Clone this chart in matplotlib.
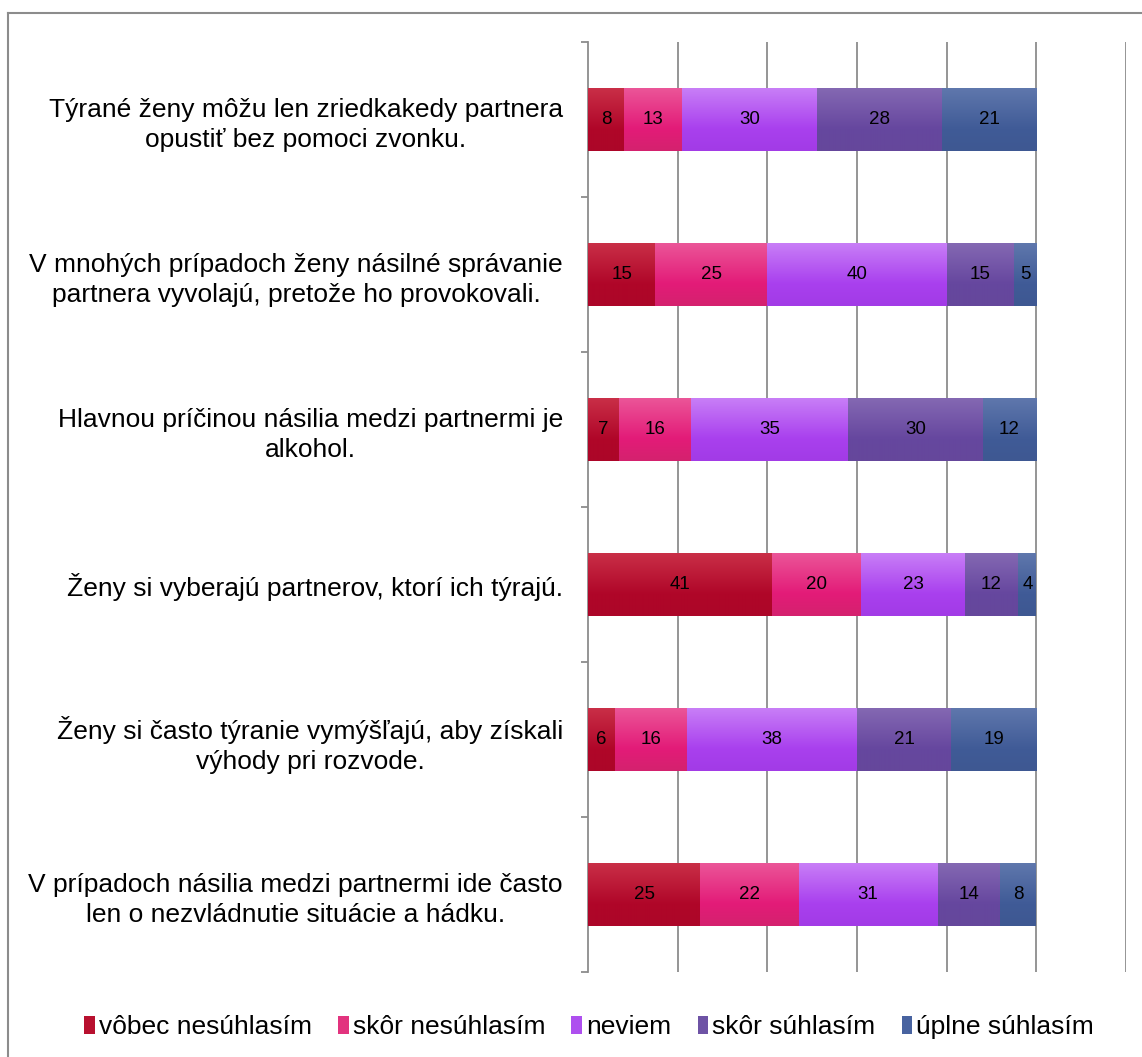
import matplotlib
matplotlib.use("Agg")
import matplotlib.pyplot as plt
import numpy as np
from matplotlib.colors import LinearSegmentedColormap
from matplotlib.patches import Patch
from matplotlib.lines import Line2D

plt.rcParams['font.family'] = ['Liberation Sans', 'DejaVu Sans']

categories = [
    "Týrané ženy môžu len zriedkakedy partnera\nopustiť bez pomoci zvonku.",
    "V mnohých prípadoch ženy násilné správanie\npartnera vyvolajú, pretože ho provokovali.",
    "Hlavnou príčinou násilia medzi partnermi je\nalkohol.",
    "Ženy si vyberajú partnerov, ktorí ich týrajú.",
    "Ženy si často týranie vymýšľajú, aby získali\nvýhody pri rozvode.",
    "V prípadoch násilia medzi partnermi ide často\nlen o nezvládnutie situácie a hádku.",
]
series_names = ["vôbec nesúhlasím", "skôr nesúhlasím", "neviem", "skôr súhlasím", "úplne súhlasím"]
vobec = [8, 15, 7, 41, 6, 25]
skor_nes = [13, 25, 16, 20, 16, 22]
neviem = [30, 40, 35, 23, 38, 31]
skor_suh = [28, 15, 30, 12, 21, 14]
uplne = [21, 5, 12, 4, 19, 8]
series = [vobec, skor_nes, neviem, skor_suh, uplne]

# gradient stops (top, middle, bottom)
grads = [
    ("#CA3048", "#B00629", "#AC0628"),
    ("#EB5799", "#E31B78", "#D4226E"),
    ("#C980F7", "#A940EE", "#A23BE6"),
    ("#8569B3", "#66479F", "#65479B"),
    ("#6078AD", "#405B97", "#3E5892"),
]
solid = ["#B8102F", "#E2337E", "#AE4FEF", "#6E53A5", "#4863A0"]

W, H = 1142, 1057
fig = plt.figure(figsize=(W / 100, H / 100), dpi=100)
ax = fig.add_axes([588 / W, 1 - 972 / H, (1126 - 588) / W, (972 - 42) / H])

y = np.arange(len(categories))
left = np.zeros(len(categories))
grad_img = np.linspace(0, 1, 256).reshape(-1, 1)
for vals, name, g, c in zip(series, series_names, grads, solid):
    vals = np.array(vals, dtype=float)
    bars = ax.barh(y, vals, left=left, height=0.41, color=c, edgecolor='none', label=name, zorder=3)
    cmap = LinearSegmentedColormap.from_list(name, [(0, g[0]), (0.65, g[1]), (1, g[2])])
    for b in bars:
        x0, y0 = b.get_x(), b.get_y()
        w, h = b.get_width(), b.get_height()
        im = ax.imshow(grad_img, cmap=cmap, aspect='auto', extent=(x0, x0 + w, y0 + h, y0),
                       zorder=3.5, interpolation='bilinear')
        im.set_clip_path(b)
    for b, v in zip(bars, vals):
        ax.text(b.get_x() + b.get_width() / 2, b.get_y() + b.get_height() / 2, f"{v:g}",
                ha='center', va='center', fontsize=13.5, color='black', zorder=5)
    left += vals

ax.set_xlim(0, 120)
ax.set_ylim(len(categories) - 0.5, -0.5)
ax.set_xticks([20, 40, 60, 80, 100, 120])
ax.xaxis.grid(True, color='#8c8c8c', linewidth=1.3, zorder=0)
ax.tick_params(axis='x', length=0, labelbottom=False)
ax.set_yticks(np.arange(len(categories) + 1) - 0.5, minor=True)
ax.set_yticks(y)
ax.set_yticklabels(categories, fontsize=19, multialignment='center', linespacing=1.3)
ax.tick_params(axis='y', which='major', length=0, pad=18)
ax.tick_params(axis='y', which='minor', length=5, width=1.3, color='#8c8c8c', direction='out')
for s in ['top', 'right', 'bottom']:
    ax.spines[s].set_visible(False)
ax.spines['left'].set_color('#8c8c8c')
ax.spines['left'].set_linewidth(1.3)

handles = [Patch(facecolor=c, edgecolor='none') for c in solid]
fig.legend(handles, series_names, loc='center', bbox_to_anchor=(589 / W, 1 - 1027 / H), ncol=5,
           frameon=False, fontsize=19, handlelength=0.4, handleheight=0.65, handletextpad=0.15,
           columnspacing=1.0, borderpad=0)

# outer border (top and left visible)
fig.add_artist(Line2D([8 / W, 1], [1 - 13 / H, 1 - 13 / H], color='#8c8c8c', linewidth=1.5))
fig.add_artist(Line2D([8 / W, 8 / W], [0, 1 - 13 / H], color='#8c8c8c', linewidth=1.5))

fig.savefig("out.png", dpi=100)
